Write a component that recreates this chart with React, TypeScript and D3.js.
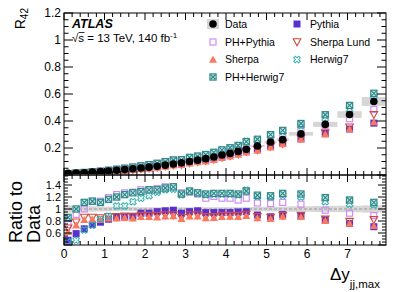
import React from "react";
import * as d3 from "d3";

// ---- data ----
const binEdges = [0, 0.2, 0.4, 0.6, 0.8, 1, 1.2, 1.4, 1.6, 1.8, 2, 2.2, 2.4, 2.6, 2.8, 3, 3.2, 3.4, 3.6, 3.8, 4, 4.2, 4.4, 4.6, 4.95, 5.25, 5.55, 6.15, 6.75, 7.35, 7.95];
const dataR42 = [0.012, 0.014, 0.017, 0.021, 0.025, 0.030, 0.035, 0.040, 0.046, 0.052, 0.058, 0.065, 0.073, 0.081, 0.090, 0.100, 0.110, 0.121, 0.133, 0.148, 0.160, 0.175, 0.190, 0.215, 0.245, 0.262, 0.305, 0.375, 0.448, 0.545];
const dataRelErr = [0.06, 0.055, 0.05, 0.045, 0.04, 0.04, 0.035, 0.035, 0.035, 0.03, 0.03, 0.03, 0.03, 0.03, 0.03, 0.03, 0.03, 0.03, 0.03, 0.03, 0.03, 0.03, 0.035, 0.035, 0.04, 0.04, 0.045, 0.05, 0.055, 0.06];
const ratioPythia = [0.48, 0.59, 0.67, 0.74, 0.78, 0.83, 0.86, 0.87, 0.88, 0.93, 0.93, 0.955, 0.97, 0.98, 0.93, 0.955, 0.97, 0.94, 0.94, 0.94, 0.94, 0.95, 0.955, 0.90, 0.87, 0.91, 0.88, 0.82, 0.76, 0.705];
const ratioPHPythia = [0.74, 0.91, 1.0, 1.13, 1.13, 1.19, 1.24, 1.27, 1.28, 1.32, 1.32, 1.34, 1.37, 1.37, 1.27, 1.28, 1.25, 1.18, 1.21, 1.18, 1.18, 1.15, 1.18, 1.10, 1.09, 1.11, 1.08, 0.98, 0.93, 0.89];
const ratioSherpaLund = [0.68, 0.78, 0.86, 0.86, 0.85, 0.87, 0.87, 0.88, 0.87, 0.89, 0.89, 0.89, 0.90, 0.90, 0.86, 0.90, 0.90, 0.87, 0.87, 0.89, 0.89, 0.89, 0.91, 0.87, 0.86, 0.89, 0.89, 0.83, 0.79, 0.82];
const ratioSherpa = [0.62, 0.73, 0.82, 0.83, 0.82, 0.845, 0.845, 0.855, 0.845, 0.87, 0.87, 0.865, 0.88, 0.885, 0.84, 0.88, 0.88, 0.85, 0.855, 0.87, 0.875, 0.87, 0.89, 0.85, 0.84, 0.875, 0.87, 0.805, 0.76, 0.72];
const ratioHerwig7 = [0.45, 0.48, 0.65, 0.73, 0.83, 0.88, 1.05, 1.05, 1.12, 1.18, 1.22, 1.28, 1.32, 1.33, 1.24, 1.29, 1.26, 1.24, 1.25, 1.25, 1.25, 1.24, 1.31, 1.21, 1.20, 1.23, 1.20, 1.12, 1.08, 1.07];
const ratioPHHerwig7 = [0.86, 1.0, 1.11, 1.13, 1.11, 1.16, 1.20, 1.24, 1.27, 1.29, 1.32, 1.32, 1.35, 1.37, 1.25, 1.30, 1.27, 1.25, 1.26, 1.26, 1.26, 1.25, 1.30, 1.23, 1.22, 1.26, 1.25, 1.19, 1.15, 1.11];

const xTickLabels = [0, 1, 2, 3, 4, 5, 6, 7];
const topYTickLabels = [0.2, 0.4, 0.6, 0.8, 1, 1.2];
const ratioYTickLabels = [0.6, 0.8, 1, 1.2, 1.4];

const FONT = "'Liberation Sans', Arial, Helvetica, sans-serif";

type MType = "data" | "pythia" | "phpythia" | "sherpalund" | "sherpa" | "herwig7" | "phherwig7";

const C = {
  pythia: "#5a2fd2",
  phpythia: "#d08cf6",
  sherpalund: "#d44a3a",
  sherpa: "#f9785f",
  herwig7: "#35b0b0",
  phherwig7: "#2f8a8a",
  band: "#d6d6d6",
};

function Marker({ type, x, y }: { type: MType; x: number; y: number }) {
  switch (type) {
    case "data":
      return <circle cx={x} cy={y} r={3.8} fill="#000" />;
    case "pythia":
      return <rect x={x - 3.5} y={y - 3.5} width={7} height={7} fill={C.pythia} />;
    case "phpythia":
      return <rect x={x - 3} y={y - 3} width={6} height={6} fill="none" stroke={C.phpythia} strokeWidth={1.2} />;
    case "sherpalund":
      return <path d={`M${x - 3.8},${y - 3.2}L${x + 3.8},${y - 3.2}L${x},${y + 3.8}Z`} fill="none" stroke={C.sherpalund} strokeWidth={1.1} />;
    case "sherpa":
      return <path d={`M${x - 4},${y + 3.3}L${x + 4},${y + 3.3}L${x},${y - 3.9}Z`} fill={C.sherpa} />;
    case "herwig7": {
      const r = 3.5, a = 1.2;
      const pts = [[-a, -r], [a, -r], [a, -a], [r, -a], [r, a], [a, a], [a, r], [-a, r], [-a, a], [-r, a], [-r, -a], [-a, -a]];
      return (
        <g transform={`rotate(45 ${x} ${y})`}>
          <path d={"M" + pts.map((p) => `${x + p[0]},${y + p[1]}`).join("L") + "Z"} fill="none" stroke={C.herwig7} strokeWidth={1} />
        </g>
      );
    }
    case "phherwig7":
      return (
        <g>
          <rect x={x - 3.7} y={y - 3.7} width={7.4} height={7.4} fill={C.phherwig7} />
          <rect x={x - 2.5} y={y - 2.5} width={5} height={5} fill="#cfe9e9" />
          <path d={`M${x - 2.5},${y - 2.5}L${x + 2.5},${y + 2.5}M${x + 2.5},${y - 2.5}L${x - 2.5},${y + 2.5}`} stroke={C.phherwig7} strokeWidth={1.2} />
        </g>
      );
  }
  return null;
}

const L = 64, R = 386, T = 13, MID = 175, B = 245;

export default function App() {
  const x = d3.scaleLinear().domain([0, 7.95]).range([L, R]);
  const yTop = d3.scaleLinear().domain([0, 1.2]).range([MID, T]);
  const yRat = d3.scaleLinear().domain([0.4, 1.5667]).range([B, MID]);

  const nb = dataR42.length;
  const bins = d3.range(nb).map((i) => ({
    lo: binEdges[i],
    hi: binEdges[i + 1],
    c: (binEdges[i] + binEdges[i + 1]) / 2,
  }));

  const series: { type: MType; ratio: number[] }[] = [
    { type: "pythia", ratio: ratioPythia },
    { type: "phpythia", ratio: ratioPHPythia },
    { type: "sherpalund", ratio: ratioSherpaLund },
    { type: "sherpa", ratio: ratioSherpa },
    { type: "herwig7", ratio: ratioHerwig7 },
    { type: "phherwig7", ratio: ratioPHHerwig7 },
  ];

  const xMinor = d3.range(0, 7.95, 0.2).filter((v) => Math.abs(v - Math.round(v)) > 1e-6);
  const topMinor = d3.range(0, 1.2001, 0.05);
  const ratMinor = d3.range(0.4, 1.56, 0.05);

  const tickStroke = { stroke: "#000", strokeWidth: 1 };

  return (
    <svg width={407} height={292} style={{ display: "block", position: "absolute", left: 0, top: 0 }} fontFamily={FONT}>
      <rect width={407} height={292} fill="#fff" />
      <defs>
        <clipPath id="clipTop"><rect x={L} y={T} width={R - L} height={MID - T} /></clipPath>
        <clipPath id="clipRat"><rect x={L} y={MID} width={R - L} height={B - MID} /></clipPath>
      </defs>

      {/* ---------- top panel ---------- */}
      <g clipPath="url(#clipTop)">
        {bins.map((b, i) => (
          <rect key={"tb" + i} x={x(b.lo)} width={x(b.hi) - x(b.lo)}
            y={yTop(dataR42[i] * (1 + dataRelErr[i]))}
            height={yTop(dataR42[i] * (1 - dataRelErr[i])) - yTop(dataR42[i] * (1 + dataRelErr[i]))}
            fill={C.band} />
        ))}
        {series.map((s) =>
          bins.map((b, i) => <Marker key={s.type + i} type={s.type} x={x(b.c)} y={yTop(dataR42[i] * s.ratio[i])} />)
        )}
        {bins.map((b, i) => <Marker key={"d" + i} type="data" x={x(b.c)} y={yTop(dataR42[i])} />)}
      </g>

      {/* ---------- ratio panel ---------- */}
      <g clipPath="url(#clipRat)">
        {bins.map((b, i) => (
          <rect key={"rb" + i} x={x(b.lo)} width={x(b.hi) - x(b.lo)}
            y={yRat(1 + dataRelErr[i])} height={yRat(1 - dataRelErr[i]) - yRat(1 + dataRelErr[i])}
            fill={C.band} />
        ))}
        <line x1={L} x2={R} y1={yRat(1)} y2={yRat(1)} stroke="#999" strokeWidth={1} strokeDasharray="3,2" />
        {series.map((s) =>
          bins.map((b, i) => <Marker key={"r" + s.type + i} type={s.type} x={x(b.c)} y={yRat(s.ratio[i])} />)
        )}
      </g>

      {/* ---------- frames ---------- */}
      <rect x={L} y={T} width={R - L} height={MID - T} fill="none" stroke="#000" strokeWidth={1} />
      <rect x={L} y={MID} width={R - L} height={B - MID} fill="none" stroke="#000" strokeWidth={1} />
      <line x1={L} x2={R} y1={MID} y2={MID} stroke="#444" strokeWidth={1.6} />

      {/* x ticks */}
      {xTickLabels.map((v) => (
        <g key={"xt" + v}>
          <line x1={x(v)} x2={x(v)} y1={T} y2={T + 7} {...tickStroke} />
          <line x1={x(v)} x2={x(v)} y1={MID - 7} y2={MID + 7} {...tickStroke} />
          <line x1={x(v)} x2={x(v)} y1={B} y2={B - 8} {...tickStroke} />
          <text x={x(v)} y={258} fontSize={12} textAnchor="middle">{v}</text>
        </g>
      ))}
      {xMinor.map((v, i) => (
        <g key={"xm" + i}>
          <line x1={x(v)} x2={x(v)} y1={T} y2={T + 4} {...tickStroke} />
          <line x1={x(v)} x2={x(v)} y1={MID - 4} y2={MID + 4} {...tickStroke} />
          <line x1={x(v)} x2={x(v)} y1={B} y2={B - 4} {...tickStroke} />
        </g>
      ))}

      {/* top y ticks */}
      {topMinor.map((v, i) => {
        const major = Math.abs(v / 0.2 - Math.round(v / 0.2)) < 1e-6;
        const len = major ? 9 : 4.5;
        return (
          <g key={"ty" + i}>
            <line x1={L} x2={L + len} y1={yTop(v)} y2={yTop(v)} {...tickStroke} />
            <line x1={R} x2={R - len} y1={yTop(v)} y2={yTop(v)} {...tickStroke} />
          </g>
        );
      })}
      {topYTickLabels.map((v) => (
        <text key={"tyl" + v} x={61} y={yTop(v)} dy="0.36em" fontSize={12} textAnchor="end">{v}</text>
      ))}

      {/* ratio y ticks */}
      {ratMinor.map((v, i) => {
        const major = Math.abs(v / 0.2 - Math.round(v / 0.2)) < 1e-6;
        const len = major ? 8 : 4;
        return (
          <g key={"ry" + i}>
            <line x1={L} x2={L + len} y1={yRat(v)} y2={yRat(v)} {...tickStroke} />
            <line x1={R} x2={R - len} y1={yRat(v)} y2={yRat(v)} {...tickStroke} />
          </g>
        );
      })}
      {ratioYTickLabels.map((v) => (
        <text key={"ryl" + v} x={61} y={yRat(v)} dy="0.36em" fontSize={11} textAnchor="end">{v}</text>
      ))}

      {/* axis titles */}
      <text transform="translate(25,8) rotate(-90)" fontSize={14} textAnchor="end">
        R<tspan fontSize={10} dy={3}>42</tspan>
      </text>
      <text transform="translate(22,243) rotate(-90)" fontSize={18} textAnchor="start">Ratio to</text>
      <text transform="translate(40,243) rotate(-90)" fontSize={18} textAnchor="start">Data</text>
      <text x={330} y={280} fontSize={17}>
        Δy<tspan fontSize={11.5} dy={8}>jj,max</tspan>
      </text>

      {/* ATLAS label */}
      <text x={72} y={28} fontSize={12.5} fontWeight="bold" fontStyle="italic">ATLAS</text>
      <text x={72} y={42} fontSize={11.5}>
        √s = 13 TeV, 140 fb<tspan fontSize={8} dy={-4}>-1</tspan>
      </text>
      <line x1={78.5} x2={84.5} y1={32.5} y2={32.5} stroke="#000" strokeWidth={0.8} />

      {/* legend */}
      <rect x={207} y={19} width={12} height={10} fill={C.band} />
      <Marker type="data" x={213} y={24} />
      <text x={225} y={24} dy="0.36em" fontSize={10.5}>Data</text>
      <Marker type="phpythia" x={213} y={42} />
      <text x={225} y={42} dy="0.36em" fontSize={10.5}>PH+Pythia</text>
      <Marker type="sherpa" x={213} y={59.5} />
      <text x={225} y={59.5} dy="0.36em" fontSize={10.5}>Sherpa</text>
      <Marker type="phherwig7" x={213} y={77} />
      <text x={225} y={77} dy="0.36em" fontSize={10.5}>PH+Herwig7</text>

      <Marker type="pythia" x={297} y={24} />
      <text x={310} y={24} dy="0.36em" fontSize={10.5}>Pythia</text>
      <Marker type="sherpalund" x={297} y={42} />
      <text x={310} y={42} dy="0.36em" fontSize={10.5}>Sherpa Lund</text>
      <Marker type="herwig7" x={297} y={59.5} />
      <text x={310} y={59.5} dy="0.36em" fontSize={10.5}>Herwig7</text>
    </svg>
  );
}
